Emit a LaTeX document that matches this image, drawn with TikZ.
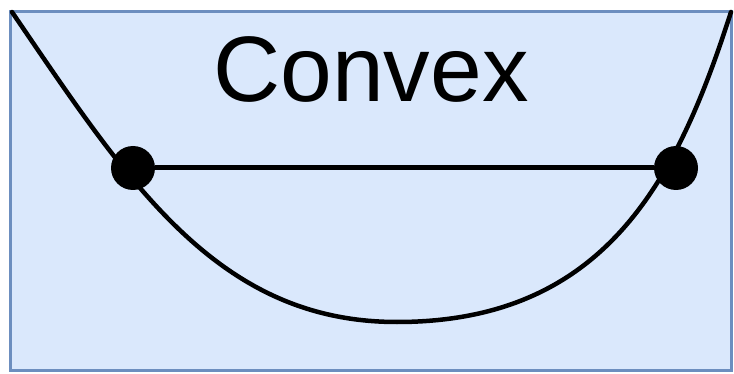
\documentclass[tikz,border=0pt]{standalone}
\usepackage{fontspec}
\setmainfont{Liberation Sans}
\usepackage{tikz}
\definecolor{panelblue}{HTML}{DAE8FC}
\definecolor{paneledge}{HTML}{6C8EBF}
\tikzset{
  panel/.style={draw=paneledge,fill=panelblue,line width=3pt},
  curveline/.style={line width=4.5pt,line cap=round},
  chordline/.style={line width=5pt},
  pointdot/.style={circle,fill=black,minimum size=44pt,inner sep=0pt},
}
\begin{document}
\begin{tikzpicture}[x=1pt,y=-1pt]
  \useasboundingbox (0,0) rectangle (734,374);
  \draw[panel] (10,12) rectangle (731,370);
  \node[anchor=base,font=\fontsize{93}{100}\selectfont,inner sep=0pt] (title) at (371,102) {Convex};
  \draw[curveline] (12,12) .. controls (128,182) and (217,322) .. (397,322)
    .. controls (607,322) and (678,177) .. (731,12);
  \node[pointdot] (lp) at (133,168) {};
  \node[pointdot] (rp) at (676,168) {};
  \draw[chordline] (lp) -- (rp);
\end{tikzpicture}
\end{document}
